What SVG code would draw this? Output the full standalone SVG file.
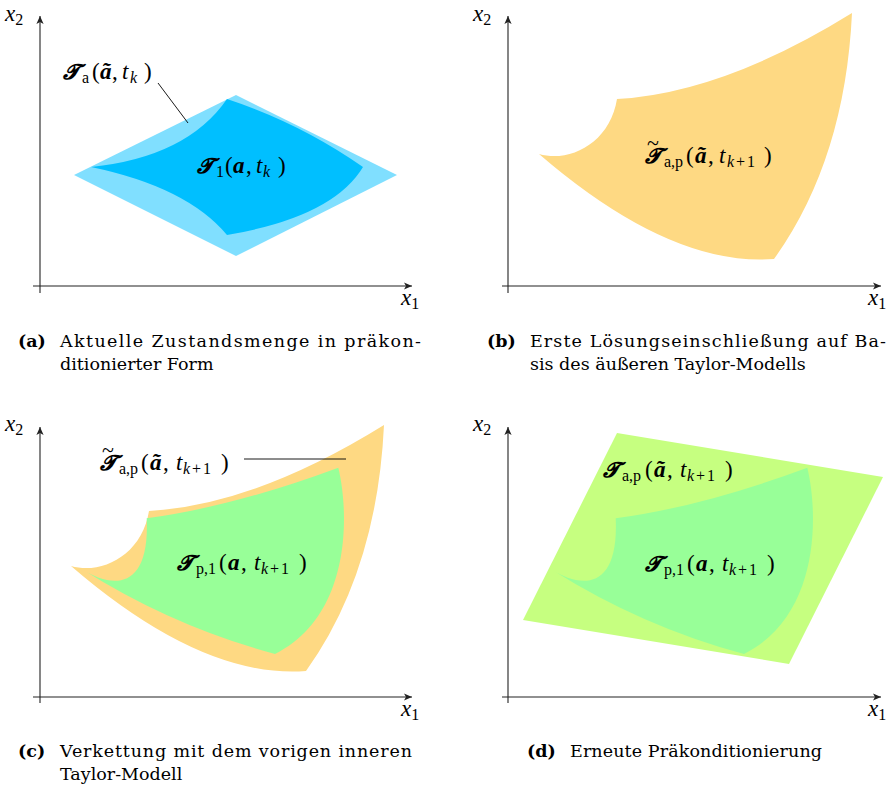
<svg xmlns="http://www.w3.org/2000/svg" width="896" height="791" viewBox="0 0 896 791">
<style>
.ax{stroke:#222;stroke-width:1.1;fill:none}
.lead{stroke:#000;stroke-width:0.9;fill:none}
.m{font-family:"Liberation Serif","DejaVu Serif",serif;font-size:23px;fill:#000}
.T{font-family:"DejaVu Serif","DejaVu Sans","Liberation Serif",serif;font-weight:bold;font-style:italic;font-size:21px}
.bi{font-weight:bold;font-style:italic}
.it{font-style:italic}
.s{font-size:16px}
.tl{font-size:22px}
.cap{font-family:"DejaVu Serif","Liberation Serif",serif;font-size:17.5px;fill:#000}
.capb{font-weight:bold}
.lb{fill:#80DFFF}.db{fill:#00BFFF}.or{fill:#FED983}.gr{fill:#98FF98}.yg{fill:#C6FF80}
</style>
<defs>
<marker id="arr" markerWidth="10" markerHeight="10" refX="1" refY="0" viewBox="-8 -5 10 10" orient="auto" markerUnits="userSpaceOnUse">
<path d="M1,0 L-7,-3.6 L-5,0 L-7,3.6 Z" fill="#222"/>
</marker>
<path id="orangeShape" d="M539,154 C570,163 610,143 617,99 Q723,93 852,13 Q845,160 774,259 Q670,267 539,154 Z"/>
<path id="greenShape" d="M83.3,570 C110,586.7 150,593.3 146.7,518.3 Q233.3,506.7 338.3,467.7 C350,516.7 350,616.7 275,654 Q173.3,626.7 83.3,570 Z"/>
</defs>

<g id="axes">
<line class="ax" x1="40" y1="293" x2="40" y2="16" marker-end="url(#arr)"/>
<line class="ax" x1="33" y1="286" x2="412" y2="286" marker-end="url(#arr)"/>
<line class="ax" x1="508" y1="293" x2="508" y2="16" marker-end="url(#arr)"/>
<line class="ax" x1="502" y1="286" x2="881" y2="286" marker-end="url(#arr)"/>
<line class="ax" x1="40" y1="703" x2="40" y2="427" marker-end="url(#arr)"/>
<line class="ax" x1="33" y1="697" x2="412" y2="697" marker-end="url(#arr)"/>
<line class="ax" x1="508" y1="703" x2="508" y2="427" marker-end="url(#arr)"/>
<line class="ax" x1="502" y1="697" x2="881" y2="697" marker-end="url(#arr)"/>
<text class="m" x="5" y="21"><tspan class="it">x</tspan><tspan class="s" y="25">2</tspan></text>
<text class="m" x="401" y="305"><tspan class="it">x</tspan><tspan class="s" y="309">1</tspan></text>
<text class="m" x="473" y="21"><tspan class="it">x</tspan><tspan class="s" y="25">2</tspan></text>
<text class="m" x="868" y="305"><tspan class="it">x</tspan><tspan class="s" y="309">1</tspan></text>
<text class="m" x="5" y="431"><tspan class="it">x</tspan><tspan class="s" y="435">2</tspan></text>
<text class="m" x="401" y="716"><tspan class="it">x</tspan><tspan class="s" y="720">1</tspan></text>
<text class="m" x="473" y="431"><tspan class="it">x</tspan><tspan class="s" y="435">2</tspan></text>
<text class="m" x="868" y="716"><tspan class="it">x</tspan><tspan class="s" y="720">1</tspan></text>
</g>

<g id="panel-a">
<path class="lb" d="M74,175 L236,95 L397,175 L236,256 Z"/>
<path class="db" d="M91,167 Q187,157 227,99 Q300,123 363,167 Q333,217 227,235 Q187,187 91,167 Z"/>
<text class="m" y="79"><tspan class="T" x="63">𝓣</tspan><tspan class="s" x="82" y="83">a</tspan><tspan x="92" y="79">(</tspan><tspan class="bi" x="100">ã</tspan><tspan x="112">,</tspan><tspan class="it" x="122">t</tspan><tspan class="s it" x="130" y="83">k</tspan><tspan x="144" y="79">)</tspan></text>
<text class="m" y="173"><tspan class="T" x="197">𝓣</tspan><tspan class="s" x="216" y="177">1</tspan><tspan x="225" y="173">(</tspan><tspan class="bi" x="233">a</tspan><tspan x="246">,</tspan><tspan class="it" x="256">t</tspan><tspan class="s it" x="263" y="177">k</tspan><tspan x="278" y="173">)</tspan></text>
</g>

<g id="panel-b">
<use href="#orangeShape" class="or"/>
<text class="m" y="163"><tspan class="tl" x="647" y="150">~</tspan><tspan class="T" x="645" y="163">𝓣</tspan><tspan class="s" x="664" y="167">a,p</tspan><tspan x="686" y="163">(</tspan><tspan class="bi" x="695">ã</tspan><tspan x="708">,</tspan><tspan class="it" x="719">t</tspan><tspan class="s it" x="727" y="167">k</tspan><tspan class="s" x="736" y="167">+</tspan><tspan class="s" x="747" y="167">1</tspan><tspan x="764" y="163">)</tspan></text>
</g>

<g id="panel-c">
<use href="#orangeShape" class="or" transform="translate(-468,412)"/>
<use href="#greenShape" class="gr"/>
<text class="m" y="470"><tspan class="tl" x="102" y="457">~</tspan><tspan class="T" x="100" y="470">𝓣</tspan><tspan class="s" x="119" y="474">a,p</tspan><tspan x="141" y="470">(</tspan><tspan class="bi" x="150">ã</tspan><tspan x="163">,</tspan><tspan class="it" x="176">t</tspan><tspan class="s it" x="183" y="474">k</tspan><tspan class="s" x="192" y="474">+</tspan><tspan class="s" x="203" y="474">1</tspan><tspan x="221" y="470">)</tspan></text>
<text class="m" y="570"><tspan class="T" x="177">𝓣</tspan><tspan class="s" x="196" y="574">p,1</tspan><tspan x="219" y="570">(</tspan><tspan class="bi" x="228">a</tspan><tspan x="241">,</tspan><tspan class="it" x="254">t</tspan><tspan class="s it" x="261" y="574">k</tspan><tspan class="s" x="270" y="574">+</tspan><tspan class="s" x="281" y="574">1</tspan><tspan x="299" y="570">)</tspan></text>
</g>

<g id="panel-d">
<path class="yg" d="M617,433 L883,477 L789,664 L523,620 Z"/>
<use href="#greenShape" class="gr" transform="translate(469,0)"/>
<text class="m" y="477"><tspan class="T" x="603">𝓣</tspan><tspan class="s" x="622" y="481">a,p</tspan><tspan x="645" y="477">(</tspan><tspan class="bi" x="654">ã</tspan><tspan x="667">,</tspan><tspan class="it" x="680">t</tspan><tspan class="s it" x="687" y="481">k</tspan><tspan class="s" x="696" y="481">+</tspan><tspan class="s" x="707" y="481">1</tspan><tspan x="725" y="477">)</tspan></text>
<text class="m" y="571"><tspan class="T" x="645">𝓣</tspan><tspan class="s" x="664" y="575">p,1</tspan><tspan x="687" y="571">(</tspan><tspan class="bi" x="696">a</tspan><tspan x="709">,</tspan><tspan class="it" x="722">t</tspan><tspan class="s it" x="729" y="575">k</tspan><tspan class="s" x="738" y="575">+</tspan><tspan class="s" x="749" y="575">1</tspan><tspan x="767" y="571">)</tspan></text>
</g>

<g id="connectors">
<line class="lead" x1="158" y1="83" x2="188" y2="123"/>
<line class="lead" x1="244" y1="459" x2="346" y2="459"/>
</g>

<g id="captions">
<text class="cap capb" x="18" y="347">(a)</text>
<text class="cap" x="60" y="347" textLength="361" lengthAdjust="spacing">Aktuelle Zustandsmenge in präkon-</text>
<text class="cap" x="60" y="370">ditionierter Form</text>
<text class="cap capb" x="487" y="347">(b)</text>
<text class="cap" x="530" y="347" textLength="356" lengthAdjust="spacing">Erste Lösungseinschließung auf Ba-</text>
<text class="cap" x="530" y="370">sis des äußeren Taylor-Modells</text>
<text class="cap capb" x="18" y="757">(c)</text>
<text class="cap" x="60" y="757" textLength="352" lengthAdjust="spacing">Verkettung mit dem vorigen inneren</text>
<text class="cap" x="60" y="780">Taylor-Modell</text>
<text class="cap capb" x="527" y="757">(d)</text>
<text class="cap" x="570" y="757" textLength="252" lengthAdjust="spacing">Erneute Präkonditionierung</text>
</g>
</svg>
